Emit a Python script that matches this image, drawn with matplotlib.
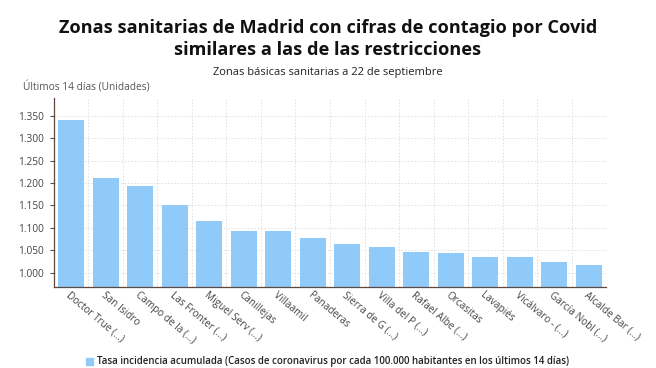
import numpy as np
import matplotlib.pyplot as plt
from matplotlib.patches import Rectangle

zonas = ["Doctor True (…)", "San Isidro", "Campo de la (…)", "Las Fronter (…)",
         "Miguel Serv (…)", "Canillejas", "Villaamil", "Panaderas",
         "Sierra de G (…)", "Villa del P (…)", "Rafael Albe (…)", "Orcasitas",
         "Lavapiés", "Vicálvaro - (…)", "García Nobl (…)", "Alcalde Bar (…)"]
tasa = [1340, 1212, 1193, 1150, 1116, 1094, 1094, 1077,
        1064, 1057, 1046, 1045, 1035, 1034, 1024, 1018]
yticks = [1000, 1050, 1100, 1150, 1200, 1250, 1300, 1350]

plt.rcParams['font.family'] = ['Open Sans', 'DejaVu Sans']

fig = plt.figure(figsize=(6.56, 3.68), dpi=100)
ax = fig.add_axes([0.0823, 0.220, 0.8415, 0.514])

x = np.arange(len(zonas))
ax.bar(x, tasa, width=0.76, color='#90caf9', zorder=2)

ax.set_xlim(-0.5, len(zonas) - 0.5)
ax.set_ylim(968, 1390)
ax.set_yticks(yticks)
ax.set_yticklabels([f"{v:,}".replace(",", ".") for v in yticks], fontsize=7.3, color='#444444')
ax.set_xticks(x)
ax.set_xticklabels(zonas, rotation=-40, ha='left', va='top', rotation_mode='anchor',
                   fontsize=7.2, color='#444444')
ax.set_xticks(np.arange(-0.5, len(zonas)), minor=True)
ax.tick_params(axis='x', which='both', length=0, pad=2)
ax.tick_params(axis='y', length=3, width=0.8, color='#5a4a42', pad=4)
ax.grid(True, axis='y', which='major', color='#dddddd', linestyle=(0, (2, 2)), linewidth=0.6, zorder=0)
ax.grid(True, axis='x', which='minor', color='#dddddd', linestyle=(0, (2, 2)), linewidth=0.6, zorder=0)

for s in ['top', 'right']:
    ax.spines[s].set_visible(False)
for s in ['left', 'bottom']:
    ax.spines[s].set_color('#5a4a42')
    ax.spines[s].set_linewidth(0.9)

fig.text(0.5, 0.895, "Zonas sanitarias de Madrid con cifras de contagio por Covid\nsimilares a las de las restricciones",
         ha='center', va='center', fontsize=13.1, fontweight='bold', color='#111111', linespacing=1.27)
fig.text(0.5, 0.804, "Zonas básicas sanitarias a 22 de septiembre", ha='center', va='center',
         fontsize=8, color='#222222')
fig.text(0.035, 0.762, "Últimos 14 días (Unidades)", ha='left', va='center', fontsize=7.25, color='#555555')

fig.patches.append(Rectangle((0.131, 0.0095), 0.0105, 0.019, transform=fig.transFigure,
                             color='#90caf9'))
fig.text(0.148, 0.018, "Tasa incidencia acumulada (Casos de coronavirus por cada 100.000 habitantes en los últimos 14 días)",
         ha='left', va='center', fontsize=7.0, fontweight='semibold', color='#222222')

fig.savefig("out.png", dpi=100)
